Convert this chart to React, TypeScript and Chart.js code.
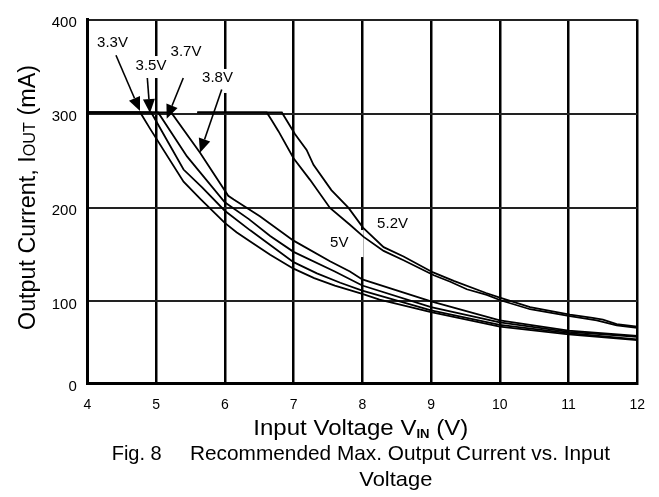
import React, { useEffect, useRef } from 'react';
import { Chart, LinearScale, registerables } from 'chart.js';

Chart.register(...registerables);

// ---------- data ----------
const X_TICKS = [4, 5, 6, 7, 8, 9, 10, 11, 12];
const Y_TICKS = [0, 100, 200, 300, 400];

const V33_X = [4, 4.77, 4.91, 5.4, 5.64, 6.0, 6.17, 6.37, 6.66, 7.0, 7.3, 7.6, 8.0, 8.25, 9.0, 10.0, 11.0, 12.0];
const V33_Y = [302, 302, 285, 228, 210, 184, 174, 164, 150, 135, 125, 117, 108, 102, 87, 69.5, 60, 53];

const V35_X = [4, 4.93, 5.4, 5.67, 6.0, 6.37, 7.0, 7.34, 7.68, 8.0, 9.0, 10.0, 11.0, 12.0];
const V35_Y = [302, 302, 241, 222, 197, 176, 142, 130, 120, 111.5, 89, 71.5, 61.5, 54];

const V37_X = [4, 5.03, 5.45, 6.0, 6.35, 6.66, 7.0, 7.6, 8.0, 9.0, 10.0, 11.0, 12.0];
const V37_Y = [302, 302, 255, 206, 188, 170, 153, 132, 117, 93, 74.5, 63, 57];

const V38_X = [4, 5.22, 5.64, 6.05, 6.13, 6.51, 7.0, 7.53, 7.82, 8.0, 9.0, 10.0, 11.0, 12.0];
const V38_Y = [302, 302, 259, 213, 209, 191, 165, 143, 132, 123.5, 100, 77, 64.5, 58];

const V50_X = [5.6, 6.61, 6.68, 6.78, 7.0, 7.24, 7.53, 7.82, 8.02, 8.31, 8.6, 9.04, 9.28, 9.52, 9.81, 10.02, 10.44, 11.02, 11.41, 11.7, 12.0];
const V50_Y = [302, 302, 294, 282, 253, 230, 200, 182, 169, 154, 144, 128, 121, 113, 107, 101, 90.5, 82, 77, 71, 68];

const V52_X = [5.6, 6.83, 7.02, 7.19, 7.29, 7.55, 7.8, 8.01, 8.31, 8.6, 9.03, 9.33, 9.8, 10.0, 10.44, 11.02, 11.35, 11.5, 11.7, 12.0];
const V52_Y = [302, 302, 279, 262, 246, 219, 200, 179, 158, 148, 131, 122, 109, 104, 93, 84, 80, 78, 72.5, 69.5];

const SERIES_NAMES = ['3.3V', '3.5V', '3.7V', '3.8V', '5V', '5.2V'];

// annotation anchors (data units)
const LABEL_TEXT = ['3.3V', '3.5V', '3.7V', '3.8V', '5V', '5.2V'];
const LABEL_X = [4.367, 4.927, 5.436, 5.894, 7.665, 8.44];
const LABEL_Y = [376.9, 352, 366.6, 339.4, 163.5, 183.9];
const ARROW_FROM_X = [4.417, 4.873, 5.396, 5.955];
const ARROW_FROM_Y = [362.3, 338.3, 338.3, 326.3];
const ARROW_TO_X = [4.767, 4.912, 5.155, 5.639];
const ARROW_TO_Y = [303.4, 301.3, 295.4, 259];

// ---------- styling ----------
const FONT = "'Liberation Sans', Arial, Helvetica, sans-serif";
const BOX_PADS = [
  [2, 2, 2, 4],
  [2, 2, 2, 6],
  [2, 2, 2, 4],
  [2, 2, 1, 9],
  [4, 15, 5, 8],
  [2, 2, 2, 4],
]; // left, right, top, bottom

// piecewise vertical scale (the original axis has an uneven first band)
const BREAK_VALUES = [0, 100, 200, 300, 400];
const BREAK_FRACS = [0, 0.2259, 0.4827, 0.7396, 1];

function toFrac(v: number): number {
  const n = BREAK_VALUES.length;
  let i = 0;
  while (i < n - 2 && v > BREAK_VALUES[i + 1]) i++;
  const t = (v - BREAK_VALUES[i]) / (BREAK_VALUES[i + 1] - BREAK_VALUES[i]);
  return BREAK_FRACS[i] + t * (BREAK_FRACS[i + 1] - BREAK_FRACS[i]);
}
function fromFrac(f: number): number {
  const n = BREAK_FRACS.length;
  let i = 0;
  while (i < n - 2 && f > BREAK_FRACS[i + 1]) i++;
  const t = (f - BREAK_FRACS[i]) / (BREAK_FRACS[i + 1] - BREAK_FRACS[i]);
  return BREAK_VALUES[i] + t * (BREAK_VALUES[i + 1] - BREAK_VALUES[i]);
}

class PiecewiseScale extends LinearScale {
  getPixelForValue(value: any) {
    if (value === null || value === undefined) return NaN;
    return (this as any).getPixelForDecimal(toFrac(value));
  }
  getValueForPixel(pixel: number) {
    return fromFrac((this as any).getDecimalForPixel(pixel));
  }
}
(PiecewiseScale as any).id = 'piecewise';
(PiecewiseScale as any).defaults = (LinearScale as any).defaults;
Chart.register(PiecewiseScale as any);

function toPoints(xs: number[], ys: number[]) {
  return xs.map((x, i) => ({ x, y: ys[i] }));
}

type Part = { text: string; font: string; dy?: number };

function drawFitted(ctx: CanvasRenderingContext2D, parts: Part[], x: number, y: number, width: number, rotate = false) {
  let total = 0;
  const widths = parts.map((p) => {
    ctx.font = p.font;
    const w = ctx.measureText(p.text).width;
    total += w;
    return w;
  });
  const sx = width / total;
  ctx.save();
  ctx.translate(x, y);
  if (rotate) ctx.rotate(-Math.PI / 2);
  ctx.scale(sx, 1);
  ctx.fillStyle = '#000';
  ctx.textAlign = 'left';
  ctx.textBaseline = 'alphabetic';
  let cur = 0;
  parts.forEach((p, i) => {
    ctx.font = p.font;
    ctx.fillText(p.text, cur, p.dy || 0);
    cur += widths[i];
  });
  ctx.restore();
}

const decorPlugin = {
  id: 'decor',
  beforeDatasetsDraw(chart: any) {
    const ctx: CanvasRenderingContext2D = chart.ctx;
    const xs = chart.scales.x;
    const ys = chart.scales.y;
    ctx.save();
    ctx.font = `15px ${FONT}`;
    ctx.fillStyle = '#fff';
    LABEL_TEXT.forEach((t, i) => {
      const cx = xs.getPixelForValue(LABEL_X[i]);
      const cy = ys.getPixelForValue(LABEL_Y[i]);
      const w = ctx.measureText(t).width;
      const [pl, pr, pt, pb] = BOX_PADS[i];
      ctx.fillRect(cx - w / 2 - pl, cy - 7 - pt, w + pl + pr, 14 + pt + pb);
    });
    ctx.restore();
  },
  afterDatasetsDraw(chart: any) {
    const ctx: CanvasRenderingContext2D = chart.ctx;
    const xs = chart.scales.x;
    const ys = chart.scales.y;
    ctx.save();
    ctx.fillStyle = '#000';
    ctx.strokeStyle = '#000';
    ctx.font = `15px ${FONT}`;
    ctx.textAlign = 'center';
    ctx.textBaseline = 'middle';
    LABEL_TEXT.forEach((t, i) => {
      ctx.fillText(t, xs.getPixelForValue(LABEL_X[i]), ys.getPixelForValue(LABEL_Y[i]) + 1);
    });
    // arrows
    const headLen = 14;
    const headHalf = 6;
    ARROW_FROM_X.forEach((fx, i) => {
      const x1 = xs.getPixelForValue(fx);
      const y1 = ys.getPixelForValue(ARROW_FROM_Y[i]);
      const x2 = xs.getPixelForValue(ARROW_TO_X[i]);
      const y2 = ys.getPixelForValue(ARROW_TO_Y[i]);
      const dx = x2 - x1;
      const dy = y2 - y1;
      const len = Math.hypot(dx, dy);
      const ux = dx / len;
      const uy = dy / len;
      const bx = x2 - ux * headLen;
      const by = y2 - uy * headLen;
      ctx.lineWidth = 1.6;
      ctx.beginPath();
      ctx.moveTo(x1, y1);
      ctx.lineTo(bx, by);
      ctx.stroke();
      ctx.beginPath();
      ctx.moveTo(x2, y2);
      ctx.lineTo(bx - uy * headHalf, by + ux * headHalf);
      ctx.lineTo(bx + uy * headHalf, by - ux * headHalf);
      ctx.closePath();
      ctx.fill();
    });
    ctx.restore();
  },
  afterDraw(chart: any) {
    const ctx: CanvasRenderingContext2D = chart.ctx;
    // x axis title
    drawFitted(
      ctx,
      [
        { text: 'Input Voltage V', font: `22px ${FONT}` },
        { text: 'IN', font: `bold 12px ${FONT}`, dy: 3 },
        { text: ' (V)', font: `22px ${FONT}` },
      ],
      253.3,
      434.7,
      215
    );
    // y axis title
    drawFitted(
      ctx,
      [
        { text: 'Output Current, I', font: `23px ${FONT}` },
        { text: 'OUT', font: `16px ${FONT}` },
        { text: ' (mA)', font: `23px ${FONT}` },
      ],
      35,
      330,
      265,
      true
    );
    // caption
    drawFitted(ctx, [{ text: 'Fig. 8', font: `21px ${FONT}` }], 111.7, 460.3, 50);
    drawFitted(ctx, [{ text: 'Recommended Max. Output Current vs. Input', font: `21px ${FONT}` }], 190, 460.3, 420);
    drawFitted(ctx, [{ text: 'Voltage', font: `21px ${FONT}` }], 359.3, 486, 73);
  },
};

export default function App() {
  const ref = useRef<HTMLCanvasElement | null>(null);

  useEffect(() => {
    if (!ref.current) return;
    const series = [
      [V33_X, V33_Y],
      [V35_X, V35_Y],
      [V37_X, V37_Y],
      [V38_X, V38_Y],
      [V50_X, V50_Y],
      [V52_X, V52_Y],
    ];
    const chart = new Chart(ref.current, {
      type: 'line',
      data: {
        datasets: series.map(([xs, ys], i) => ({
          label: SERIES_NAMES[i],
          data: toPoints(xs, ys),
          borderColor: '#000',
          borderWidth: 1.8,
          pointRadius: 0,
          fill: false,
          tension: 0,
        })),
      },
      options: {
        animation: false,
        responsive: false,
        devicePixelRatio: 1,
        layout: { padding: { left: 0, top: 10, right: 21.7, bottom: 0 } },
        plugins: { legend: { display: false }, tooltip: { enabled: false } },
        scales: {
          x: {
            type: 'linear',
            min: 4,
            max: 12,
            afterBuildTicks: (s: any) => {
              s.ticks = X_TICKS.map((v) => ({ value: v }));
            },
            afterFit: (s: any) => {
              s.height = 113.3;
            },
            grid: { color: '#000', lineWidth: 2.5, drawTicks: false },
            border: { color: '#000', width: 3 },
            ticks: {
              color: '#000',
              font: { family: FONT, size: 14 },
              padding: 13,
              maxRotation: 0,
              autoSkip: false,
            },
          },
          y: {
            type: 'piecewise' as any,
            min: 0,
            max: 400,
            afterBuildTicks: (s: any) => {
              s.ticks = Y_TICKS.map((v) => ({ value: v }));
            },
            afterFit: (s: any) => {
              s.width = 87.3;
            },
            grid: { color: '#222', lineWidth: 2, drawTicks: false },
            border: { color: '#000', width: 3 },
            ticks: {
              color: '#000',
              font: { family: FONT, size: 15 },
              padding: 10.5,
              labelOffset: 3,
              autoSkip: false,
            },
          },
        },
      } as any,
      plugins: [decorPlugin],
    });
    return () => chart.destroy();
  }, []);

  return (
    <canvas
      ref={ref}
      width={659}
      height={497}
      style={{ position: 'fixed', left: 0, top: 0, display: 'block', background: '#fff' }}
    />
  );
}
